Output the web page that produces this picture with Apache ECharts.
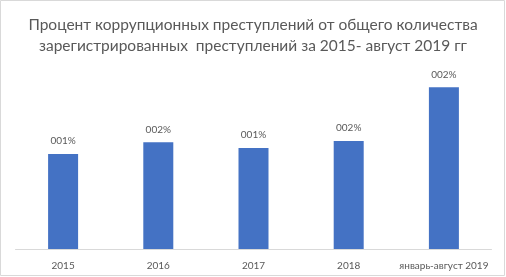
<!DOCTYPE html>
<html><head><meta charset="utf-8">
<script src="https://cdn.jsdelivr.net/npm/echarts@6/dist/echarts.min.js"></script>
<style>html,body{margin:0;padding:0;background:#fff}#c{width:506px;height:277px}</style>
</head><body><div id="c"></div>
<script>
var categories = ['2015', '2016', '2017', '2018', 'январь-август 2019'];
var values = [0.0147, 0.0165, 0.0156, 0.0167, 0.0250];
var dataLabels = ['001%', '002%', '001%', '002%', '002%'];
var titleText = 'Процент коррупционных преступлений от общего количества\nзарегистрированных  преступлений за 2015- август 2019 гг';

var chart = echarts.init(document.getElementById('c'), null, {renderer: 'canvas'});
chart.setOption({
  animation: false,
  backgroundColor: '#fff',
  title: {
    text: titleText,
    left: 'center',
    top: 9,
    textStyle: {fontFamily: 'Lato', fontSize: 15.5, fontWeight: 'normal', color: '#595959', lineHeight: 21}
  },
  graphic: [{
    type: 'rect', shape: {x: 0.5, y: 0.5, width: 504, height: 275},
    style: {fill: 'none', stroke: '#d9d9d9', lineWidth: 1}, silent: true
  }],
  grid: {left: 15.5, right: 14.5, top: 55, bottom: 28, containLabel: false},
  xAxis: {
    type: 'category', data: categories,
    axisLine: {lineStyle: {color: '#d9d9d9', width: 1}},
    axisTick: {show: false},
    axisLabel: {color: '#595959', fontFamily: 'Lato', fontSize: 10, margin: 12, interval: 0}
  },
  yAxis: {type: 'value', min: 0, max: 0.03, show: false, splitLine: {show: false}},
  series: [{
    type: 'bar', data: values, barWidth: 30,
    itemStyle: {color: '#4472C4'},
    label: {
      show: true, position: 'top', distance: 8, color: '#595959', fontFamily: 'Lato', fontSize: 10,
      formatter: function (p) { return dataLabels[p.dataIndex]; }
    }
  }]
});
</script></body></html>
